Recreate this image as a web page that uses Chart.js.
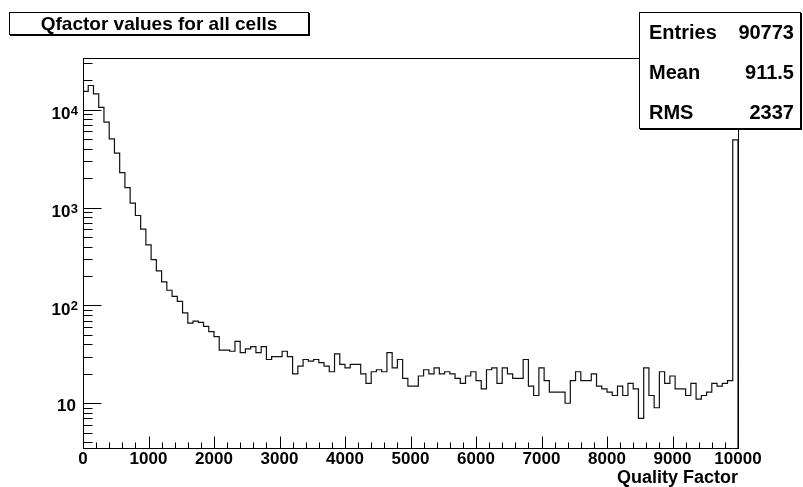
<!DOCTYPE html>
<html>
<head>
<meta charset="utf-8">
<script src="https://cdn.jsdelivr.net/npm/chart.js@4.4.0/dist/chart.umd.min.js"></script>
<style>
  body { margin: 0; background: #fff; }
  #wrap { position: relative; width: 803px; height: 487px; font-family: "Liberation Sans", Arial, sans-serif; font-weight: bold; color: #000; }
  canvas { position: absolute; left: 0; top: 0; }
  .title { position: absolute; left: 9px; top: 12px; width: 298px; height: 21px; border: 1px solid #000; box-shadow: 1px 1px 0 #000; background: #fff; font-size: 19px; line-height: 22px; text-align: center; }
  .stats { position: absolute; left: 639px; top: 12px; width: 160px; height: 115px; border: 1px solid #000; box-shadow: 1px 1px 0 #000; background: #fff; font-size: 20px; }
  .stats .row { position: absolute; left: 9px; right: 6px; height: 24px; line-height: 24px; }
  .stats .row span:last-child { float: right; }
</style>
</head>
<body>
<div id="wrap">
  <canvas id="hist" width="803" height="487"></canvas>
  <div class="title" id="title"></div>
  <div class="stats">
    <div class="row" style="top:7px"><span>Entries</span><span id="sEntries"></span></div>
    <div class="row" style="top:47px"><span>Mean</span><span id="sMean"></span></div>
    <div class="row" style="top:87px"><span>RMS</span><span id="sRms"></span></div>
  </div>
</div>
<script>
const titleText = 'Qfactor values for all cells';
const xTitle = 'Quality Factor';
const xMin = 0, xMax = 10000, nBins = 125;
const yMin = 3.49, yMax = 33800;
const xTicks = [0, 1000, 2000, 3000, 4000, 5000, 6000, 7000, 8000, 9000, 10000];
const yDecades = [10, 100, 1000, 10000];
const statEntries = '90773', statMean = '911.5', statRms = '2337';

// bin contents (bin width 80)
const counts = [
  15400, 17700, 14500, 10550, 7480, 5050, 3600, 2280, 1600, 1110,
  830, 603, 416, 294, 226, 174, 143, 124, 110, 84,
  66, 69, 67, 61, 54, 48, 35, 35, 34, 43,
  33, 36, 38, 33, 38, 28, 30, 30, 34, 30,
  20, 24, 28, 27, 28, 26, 24, 21, 32, 25,
  23, 25, 25, 20, 16, 21, 22, 21, 33, 23,
  28, 18, 15, 15, 19, 22, 20, 23, 20, 21,
  20, 18, 16, 19, 21, 17, 14, 22, 23, 16,
  23, 20, 18, 18, 28, 15, 12, 23, 17, 13,
  13, 13, 10, 17, 21, 17, 17, 20, 15, 14,
  13, 12, 15, 12, 16, 14, 7, 23, 12, 9,
  21, 16, 19, 14, 14, 12, 16, 11, 12, 13,
  16, 15, 16, 17, 4930
];

document.getElementById('title').textContent = titleText;
document.getElementById('sEntries').textContent = statEntries;
document.getElementById('sMean').textContent = statMean;
document.getElementById('sRms').textContent = statRms;

const fontFamily = "'Liberation Sans', Arial, sans-serif";
const binWidth = (xMax - xMin) / nBins;
const points = counts.map((c, i) => ({ x: xMin + i * binWidth, y: c }));
points.push({ x: xMax, y: counts[counts.length - 1] });
points.push({ x: xMax, y: yMin });

// ROOT style frame, inner tick marks and 10^n labels
const rootAxes = {
  id: 'rootAxes',
  afterDatasetsDraw(chart) {
    const { ctx, chartArea: a, scales: { x, y } } = chart;
    ctx.save();
    ctx.strokeStyle = '#000';
    ctx.lineWidth = 1;
    ctx.strokeRect(a.left + 0.5, a.top + 0.5, a.right - a.left, a.bottom - a.top);

    ctx.beginPath();
    for (let v = xMin; v <= xMax; v += 200) {
      const px = Math.round(x.getPixelForValue(v)) + 0.5;
      const len = v % 1000 === 0 ? 11.5 : 5.5;
      ctx.moveTo(px, a.bottom);
      ctx.lineTo(px, a.bottom - len);
    }
    for (let e = 0; e <= 4; e++) {
      for (let k = 1; k <= 9; k++) {
        const v = k * Math.pow(10, e);
        if (v < yMin || v > yMax) continue;
        const py = Math.round(y.getPixelForValue(v)) + 0.5;
        ctx.moveTo(a.left, py);
        ctx.lineTo(a.left + (k === 1 ? 18.5 : 9.5), py);
      }
    }
    ctx.stroke();

    ctx.fillStyle = '#000';
    yDecades.forEach(v => {
      const py = y.getPixelForValue(v);
      const exp = Math.round(Math.log10(v));
      ctx.textBaseline = 'alphabetic';
      if (exp === 1) {
        ctx.font = 'bold 17px ' + fontFamily;
        ctx.textAlign = 'right';
        ctx.fillText('10', 76, py + 8);
      } else {
        ctx.font = 'bold 17px ' + fontFamily;
        ctx.textAlign = 'right';
        ctx.fillText('10', 70.5, py + 9.3);
        ctx.font = 'bold 13px ' + fontFamily;
        ctx.textAlign = 'left';
        ctx.fillText(String(exp), 70.8, py + 5);
      }
    });
    ctx.restore();
  }
};

new Chart(document.getElementById('hist').getContext('2d'), {
  type: 'line',
  data: {
    datasets: [{
      data: points,
      stepped: true,
      borderColor: '#111',
      borderWidth: 1.2,
      pointRadius: 0,
      fill: false,
      clip: 4
    }]
  },
  options: {
    responsive: false,
    animation: false,
    devicePixelRatio: 1,
    layout: { padding: { left: 83, top: 58, right: 65, bottom: 0 } },
    plugins: { legend: { display: false }, tooltip: { enabled: false } },
    scales: {
      x: {
        type: 'linear',
        min: xMin,
        max: xMax,
        afterFit: s => { s.height = 39; },
        afterBuildTicks: s => { s.ticks = xTicks.map(v => ({ value: v })); },
        grid: { display: false, drawTicks: false },
        border: { display: false },
        ticks: {
          font: { family: fontFamily, size: 17, weight: 'bold' },
          color: '#000',
          padding: 1,
          maxRotation: 0,
          autoSkip: false,
          callback: v => String(v)
        },
        title: {
          display: true,
          text: xTitle,
          align: 'end',
          color: '#000',
          padding: 0,
          font: { family: fontFamily, size: 18, weight: 'bold', lineHeight: 1 }
        }
      },
      y: { type: 'logarithmic', min: yMin, max: yMax, display: false }
    }
  },
  plugins: [rootAxes]
});
</script>
</body>
</html>
